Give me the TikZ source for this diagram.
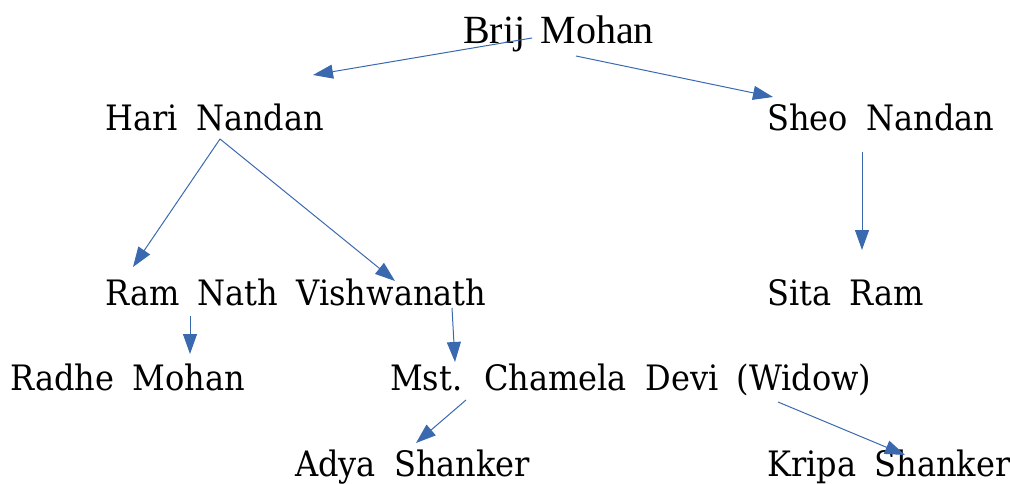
\documentclass[tikz,border=0pt]{standalone}
\usepackage{fontspec}
\setmainfont{DejaVu Serif}[WordSpace=1.8, FakeStretch=0.915]
\newfontfamily\brijfont{Liberation Serif}[WordSpace=1.5]
\usetikzlibrary{arrows.meta}
\definecolor{arrowblue}{RGB}{59,105,175}
\begin{document}
\begin{tikzpicture}[x=1pt,y=-1pt,
  person/.style={anchor=base west, inner sep=0pt, font=\fontsize{35}{42}\selectfont},
  link/.style={draw=arrowblue, line width=1pt, -{Triangle[length=20pt,width=14pt]}}]
\useasboundingbox (0,0) rectangle (1010,484);
\node[person, font=\brijfont\fontsize{40}{48}\selectfont] (brij) at (463,44) {Brij Mohan};
\node[person] (hari) at (105,131) {Hari Nandan};
\node[person] (sheo) at (767,131) {Sheo Nandan};
\node[person] (ramnath) at (105,305) {Ram Nath Vishwanath};
\node[person] (sita) at (767,305) {Sita Ram};
\node[person] (radhe) at (10,390) {Radhe Mohan};
\node[person] (chamela) at (390,390) {Mst. Chamela Devi (Widow)};
\node[person] (adya) at (295,476) {Adya Shanker};
\node[person] (kripa) at (767,476) {Kripa Shanker};
% connector end points
\coordinate (b1) at (532,38);  \coordinate (h1) at (313,75);
\coordinate (b2) at (576,56);  \coordinate (s1) at (773,97);
\coordinate (h2) at (220,139); \coordinate (r1) at (133,267);
\coordinate (v1) at (395,281);
\coordinate (s2) at (862,152); \coordinate (t1) at (862,250);
\coordinate (r2) at (190,316); \coordinate (d1) at (190,354);
\coordinate (v2) at (452,308); \coordinate (c1) at (455,362);
\coordinate (c2) at (466,400); \coordinate (a1) at (416,443);
\coordinate (c3) at (778,402); \coordinate (k1) at (905,455);
\draw[link] (b1) -- (h1);
\draw[link] (b2) -- (s1);
\draw[link] (h2) -- (r1);
\draw[link] (h2) -- (v1);
\draw[link] (s2) -- (t1);
\draw[link] (r2) -- (d1);
\draw[link] (v2) -- (c1);
\draw[link] (c2) -- (a1);
\draw[link] (c3) -- (k1);
\end{tikzpicture}
\end{document}
